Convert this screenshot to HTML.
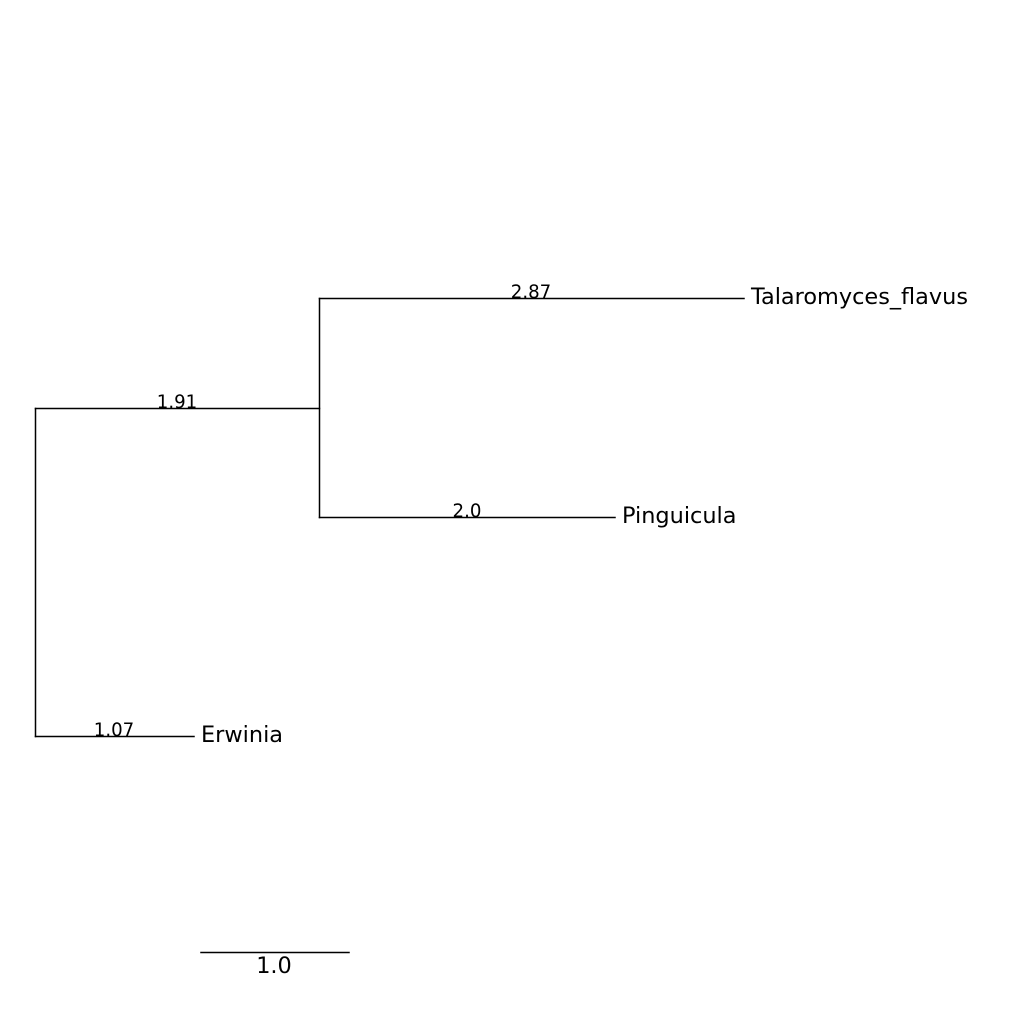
<!DOCTYPE html>
<html><head><meta charset="utf-8"><style>
html,body{margin:0;padding:0;background:#fff;}
svg{display:block;}
text{font-family:"DejaVu Sans","Liberation Sans",sans-serif;fill:#000;}
</style></head><body>
<svg width="1024" height="1024" viewBox="0 0 1024 1024" xmlns="http://www.w3.org/2000/svg">
<g stroke="#000" stroke-width="1.5" fill="none" stroke-linecap="square">
<line x1="35.5" y1="408.5" x2="35.5" y2="736.5"/>
<line x1="35.5" y1="408.5" x2="319.5" y2="408.5"/>
<line x1="319.5" y1="298.5" x2="319.5" y2="517.5"/>
<line x1="319.5" y1="298.5" x2="744" y2="298.5"/>
<line x1="319.5" y1="517.5" x2="615" y2="517.5"/>
<line x1="35.5" y1="736.5" x2="194" y2="736.5"/>
<line x1="201" y1="952.5" x2="349" y2="952.5"/>
</g>
<text x="751" y="304" font-size="22.4">Talaromyces_flavus</text>
<text x="622" y="523" font-size="22.4">Pinguicula</text>
<text x="201" y="742" font-size="22.4">Erwinia</text>
<text x="531" y="298" font-size="18.2" text-anchor="middle">2.87</text>
<text x="177" y="408" font-size="18.2" text-anchor="middle">1.91</text>
<text x="467" y="517" font-size="18.2" text-anchor="middle">2.0</text>
<text x="114" y="736" font-size="18.2" text-anchor="middle">1.07</text>
<text x="274" y="973" font-size="22.4" text-anchor="middle">1.0</text>
</svg>
</body></html>
